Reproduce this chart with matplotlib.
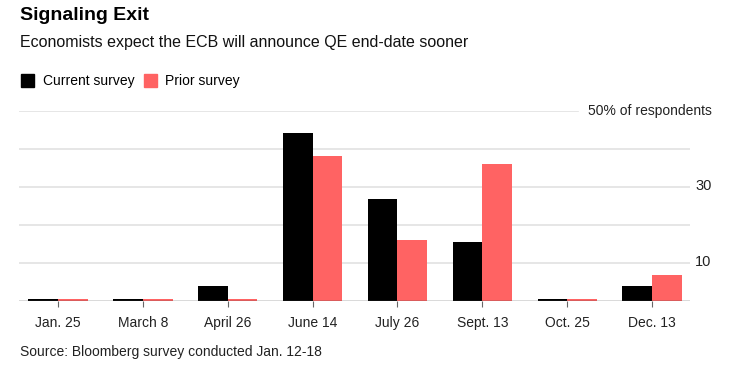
import matplotlib.pyplot as plt
import numpy as np

plt.rcParams['font.family'] = ['Liberation Sans', 'DejaVu Sans']

# data
dates = ["Jan. 25", "March 8", "April 26", "June 14", "July 26", "Sept. 13", "Oct. 25", "Dec. 13"]
current = [0.3, 0.3, 3.8, 44.2, 26.6, 15.3, 0.3, 3.8]
prior = [0.3, 0.3, 0.3, 38.0, 16.0, 36.0, 0.3, 6.8]
grid_vals = [10, 20, 30, 40]
ylabels = {30: "30", 10: "10"}

black = "#000000"
red = "#ff6363"

fig = plt.figure(figsize=(7.36, 3.67), dpi=100)
ax = fig.add_axes([19 / 736, 1 - 300.5 / 367, 671 / 736, 190 / 367])

x = np.arange(len(dates))
w = 0.35
ax.bar(x - w / 2, current, width=w, color=black, zorder=3)
ax.bar(x + w / 2, prior, width=w, color=red, zorder=3)

ax.set_xlim(-0.46, 7.447)
ax.set_ylim(0, 50)

# gridlines
for g in grid_vals:
    ax.axhline(g, color="#e2e2e2", lw=1.2, zorder=1)
ax.axhline(50, xmax=0.833, color="#e2e2e2", lw=1.2, zorder=1)
ax.axhline(0, color="#444444", lw=1.0, zorder=4)

for s in ax.spines.values():
    s.set_visible(False)
ax.set_yticks([])
ax.set_xticks(x)
ax.set_xticklabels(dates, fontsize=10, color="#222222")
ax.tick_params(axis="x", length=4, width=0.8, color="#666666", pad=7)

# right side labels
for v, lab in ylabels.items():
    ax.text(7.51, v, lab, fontsize=10.5, color="#222222", va="center", ha="left")
ax.text(7.71, 50, "50% of respondents", fontsize=10, color="#222222", va="center", ha="right")

# title, subtitle, legend
fig.text(20 / 736, 1 - 16 / 367, "Signaling Exit", fontsize=14, fontweight="bold", va="center", ha="left")
fig.text(20 / 736, 1 - 42 / 367, "Economists expect the ECB will announce QE end-date sooner",
         fontsize=11.5, va="center", ha="left", color="#111111")

fig.patches.append(plt.Rectangle((21 / 736, 1 - 87 / 367), 13 / 736, 13 / 367,
                                 transform=fig.transFigure, color=black))
fig.text(43 / 736, 1 - 81 / 367, "Current survey", fontsize=10, va="center", ha="left")
fig.patches.append(plt.Rectangle((144 / 736, 1 - 87 / 367), 13 / 736, 13 / 367,
                                 transform=fig.transFigure, color=red))
fig.text(165 / 736, 1 - 81 / 367, "Prior survey", fontsize=10, va="center", ha="left")

fig.text(20 / 736, 1 - 352 / 367, "Source: Bloomberg survey conducted Jan. 12-18",
         fontsize=10, va="center", ha="left", color="#222222")

fig.savefig("out.png", dpi=100)
